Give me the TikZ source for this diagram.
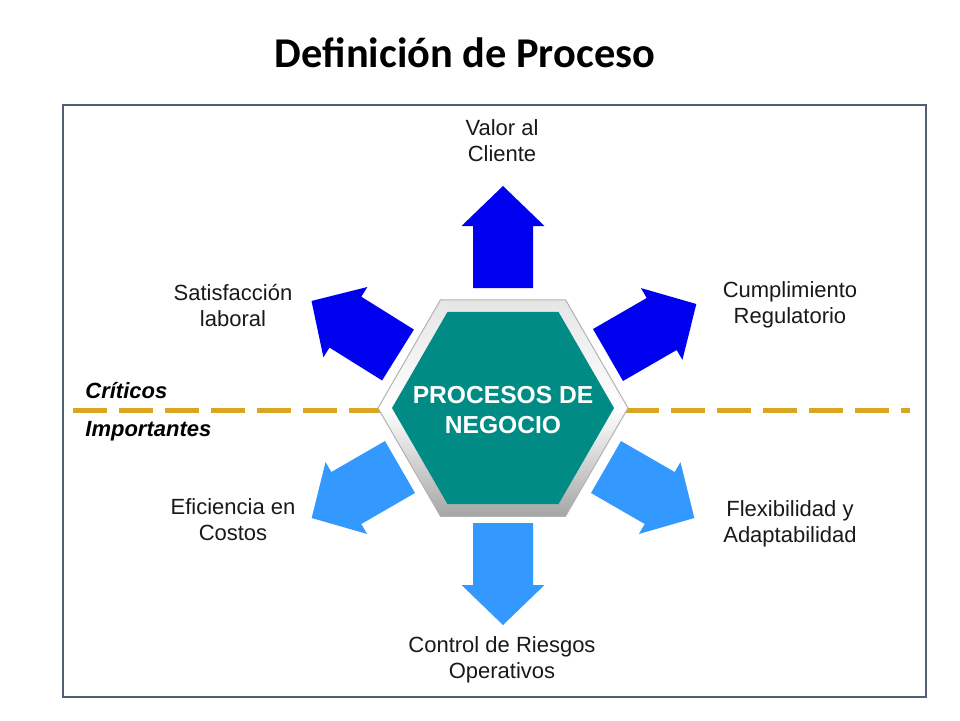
\documentclass[tikz,border=0pt]{standalone}
\usepackage{fontspec}
\setmainfont{Liberation Sans}
\newfontfamily\titlefont{Carlito}
\usetikzlibrary{shapes.geometric}

\definecolor{critblue}{RGB}{0,0,240}
\definecolor{impblue}{RGB}{51,153,255}
\definecolor{procteal}{RGB}{0,140,132}
\definecolor{tiergold}{RGB}{218,165,32}
\definecolor{framegray}{RGB}{80,95,115}

% block arrow: base point, direction, colour
\newcommand{\blockarrow}[3]{%
  \fill[#3, shift={#1}, rotate=#2] (0,-30) -- (62,-30) -- (62,-41.5) -- (102,0) -- (62,41.5) -- (62,30) -- (0,30) -- cycle;}

\begin{document}
\begin{tikzpicture}[x=0.5pt, y=-0.5pt,
  goal/.style={align=center, text=black!90, font=\fontsize{11}{13}\selectfont},
  tier/.style={anchor=west, inner sep=0pt, font=\fontsize{11}{13}\selectfont\bfseries\itshape},
  hexa/.style={regular polygon, regular polygon sides=6, inner sep=0pt}]
	\useasboundingbox (0,0) rectangle (960,720);
	\node[font=\titlefont\bfseries\fontsize{21.2}{25}\selectfont, anchor=base] (title) at (465,67) {Definición de Proceso};
	\draw[framegray, line width=0.8pt] (63,105) rectangle (926,697);
	% criticos / importantes
	\coordinate (dashL) at (73,410);
	\coordinate (dashR) at (910,410);
	\draw[tiergold, line width=2.5pt, dash pattern=on 17pt off 6pt] (dashL) -- (dashR);
	\node[tier] (crit) at (85,391) {Críticos};
	\node[tier] (imp) at (85,431) {Importantes};
	% arrows
	\blockarrow{(503,288)}{90}{critblue}
	\blockarrow{(398,355)}{148}{critblue}
	\blockarrow{(608,355)}{30}{critblue}
	\blockarrow{(400,467)}{210}{impblue}
	\blockarrow{(606,467)}{-30}{impblue}
	\blockarrow{(503,523)}{-90}{impblue}
	% hexagon
	\node[hexa, minimum size=125pt, top color=gray!20, bottom color=gray!70, middle color=white, draw=gray!60, line width=0.5pt] (hexout) at (503,408) {};
	\node[hexa, minimum size=111pt, fill=procteal] (hexin) at (503,408) {};
	\node[align=center, text=white, font=\fontsize{12.3}{15}\selectfont\bfseries] (proc) at (503,410) {PROCESOS DE\\NEGOCIO};
	% labels
	\node[goal] (valor) at (502,141) {Valor al\\Cliente};
	\node[goal] (satis) at (233,305) {Satisfacción\\laboral};
	\node[goal] (cumpl) at (790,305) {Cumplimiento\\Regulatorio};
	\node[goal] (efic) at (233,520) {Eficiencia en\\Costos};
	\node[goal] (flex) at (790,524) {Flexibilidad y\\Adaptabilidad};
	\node[goal] (riesgo) at (502,660) {Control de Riesgos\\Operativos};
\end{tikzpicture}
\end{document}
